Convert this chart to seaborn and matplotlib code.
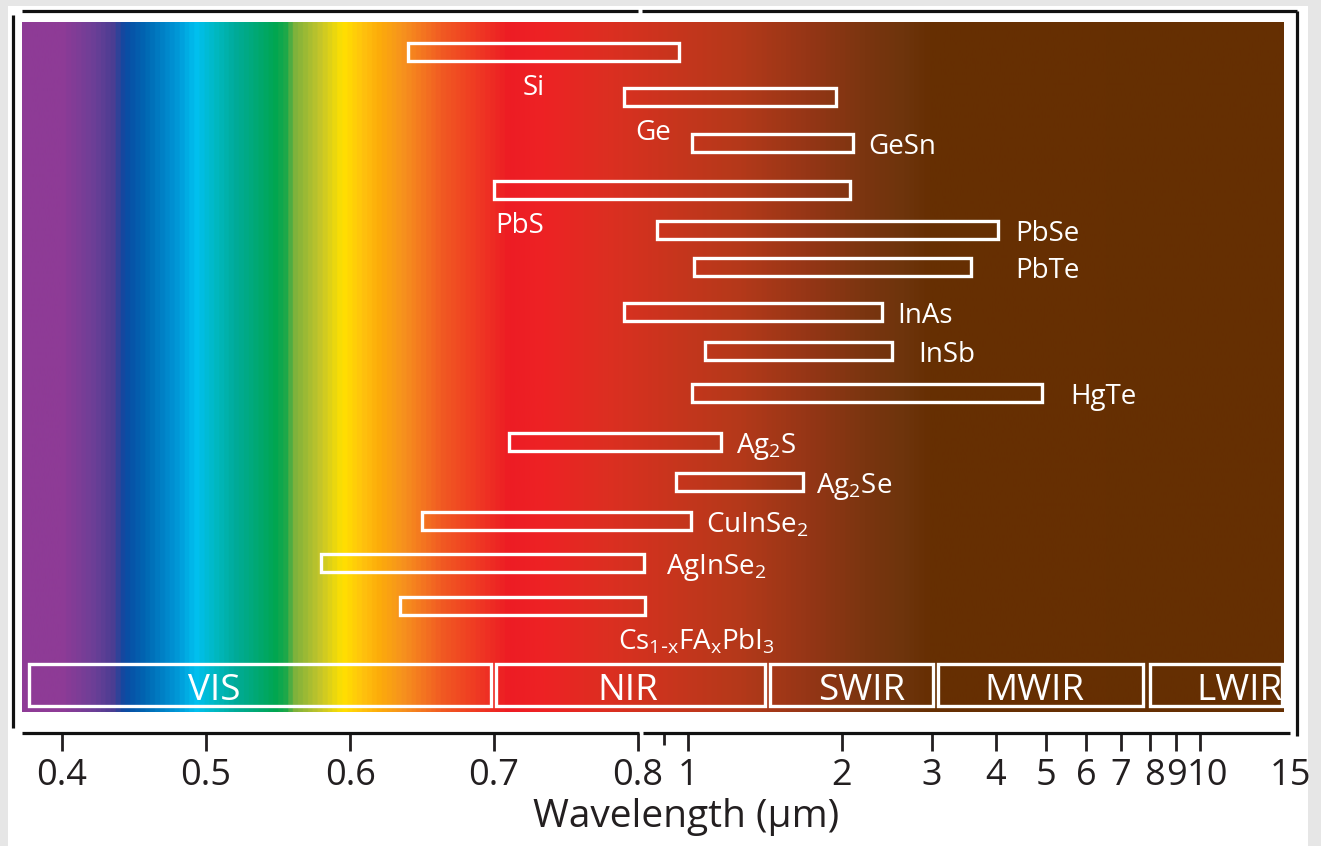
import numpy as np
import matplotlib
matplotlib.use('Agg')
import matplotlib.pyplot as plt
import matplotlib.transforms as mtransforms
from matplotlib.colors import LinearSegmentedColormap
from matplotlib.lines import Line2D
from matplotlib.patches import Rectangle
import seaborn as sns

# detector materials and their spectral windows (um)
materials = ['Si', 'Ge', 'GeSn', 'PbS', 'PbSe', 'PbTe', 'InAs', 'InSb', 'HgTe',
             r'Ag$_\mathregular{2}$S', r'Ag$_\mathregular{2}$Se', r'CuInSe$_\mathregular{2}$',
             r'AgInSe$_\mathregular{2}$', r'Cs$_\mathregular{1\text{-}x}$FA$_\mathregular{x}$PbI$_\mathregular{3}$']
lo = [0.64, 0.79, 1.02, 0.70, 0.87, 1.03, 0.79, 1.08, 1.02, 0.71, 0.95, 0.65, 0.58, 0.635]
hi = [0.96, 1.95, 2.10, 2.07, 4.04, 3.57, 2.39, 2.51, 4.92, 1.16, 1.68, 1.015, 0.822, 0.826]

# spectral regions
bands = ['VIS', 'NIR', 'SWIR', 'MWIR', 'LWIR']
band_lo = [0.377, 0.701, 1.45, 3.08, 7.98]
band_hi = [0.698, 1.416, 3.01, 7.75, 14.5]
band_text_x = [0.506, 0.793, 2.19, 4.75, 11.95]

tick_vals = [0.4, 0.5, 0.6, 0.7, 0.8, 1, 2, 3, 4, 5, 6, 7, 8, 9, 10, 15]
tick_labels = ['0.4', '0.5', '0.6', '0.7', '0.8', '1', '2', '3', '4', '5', '6', '7', '8', '9', '10', '15']

# colour of the spectrum background along the wavelength axis
spec_wl = [0.372, 0.399, 0.420, 0.434, 0.442, 0.457, 0.478, 0.492, 0.506, 0.519, 0.547,
           0.554, 0.561, 0.578, 0.594, 0.608, 0.619, 0.635, 0.658, 0.663, 0.710, 0.733,
           0.779, 0.936, 1.266, 1.71, 2.24, 2.68, 2.97, 14.6]
spec_col = ['#8e3b96', '#8e3b96', '#6d3f97', '#4b3d92', '#0b4aa2', '#0068b3', '#0096d6',
            '#00c0ef', '#00b8c0', '#00ab9a', '#00a651', '#1ba84a', '#7fb23c', '#c4c52a',
            '#ffe100', '#ffc20e', '#fdad0a', '#f7941d', '#f26522', '#f15a22', '#ed1c24',
            '#ee2224', '#dc2f21', '#c8351d', '#b4391a', '#963616', '#7a3510', '#6d340c',
            '#672f03', '#652f02']

# layout (row centres in pixel units, label offsets in pixels)
row_y = [52, 97, 143, 190, 230, 267, 312, 351, 393, 442, 482, 521, 563, 606]
band_y = 685
label_side = ['below', 'below', 'right', 'below', 'right', 'right', 'right', 'right', 'right',
              'right', 'right', 'right', 'right', 'below']
label_dx = [115, 12, 15, 1, 17, 44, 16, 26, 28, 15, 13, 15, 22, 218]


# linear axis up to 0.8 um, log axis beyond
def fwd(w):
    w = np.asarray(w, dtype=float)
    lg = 512.0 * np.log10(np.clip(w, 1e-6, None) / 0.8)
    return np.where(w <= 0.8, (w - 0.8) * 1440.0, lg)


def inv(y):
    y = np.asarray(y, dtype=float)
    return np.where(y <= 0, 0.8 + y / 1440.0, 0.8 * 10 ** (np.clip(y, None, 3000) / 512.0))


sns.set_theme(style='white')
plt.rcParams['font.family'] = ['Open Sans', 'DejaVu Sans']
plt.rcParams['text.color'] = '#231f20'

W, H = 1321, 846
fig = plt.figure(figsize=(W / 100, H / 100), dpi=100)
fig.patch.set_facecolor('white')
ax = fig.add_axes([22 / W, 1 - 733 / H, (1290 - 22) / W, (733 - 11) / H])
ax.set_xscale('function', functions=(fwd, inv))

# spectrum background
cmap_pos = (fwd(spec_wl) - fwd(spec_wl[0])) / (fwd(spec_wl[-1]) - fwd(spec_wl[0]))
cmap = LinearSegmentedColormap.from_list('spec', list(zip(cmap_pos, spec_col)))
img = cmap(np.linspace(0, 1, 2500))[None, :, :]

xlim = (0.3722, 15.0)
ylim = (733, 11)


def xfrac(w):
    return float((fwd(w) - fwd(xlim[0])) / (fwd(xlim[1]) - fwd(xlim[0])))


def yfrac(y):
    return (ylim[0] - y) / (ylim[0] - ylim[1])


ax.imshow(img, extent=(xfrac(spec_wl[0]), xfrac(spec_wl[-1]), yfrac(712), yfrac(22)),
          transform=ax.transAxes, aspect='auto', interpolation='bilinear', zorder=0)

# material windows
ax.barh(row_y, np.array(hi) - np.array(lo), left=lo, height=18, fill=False,
        edgecolor='white', linewidth=2.4, zorder=3)
# band boxes
ax.barh([band_y] * len(bands), np.array(band_hi) - np.array(band_lo), left=band_lo,
        height=42, fill=False, edgecolor='white', linewidth=2.4, zorder=3)

for name, a, b, y, side, dx in zip(materials, lo, hi, row_y, label_side, label_dx):
    if side == 'right':
        ax.annotate(name, xy=(b, y), xytext=(dx, -11), textcoords='offset pixels',
                    ha='left', va='baseline', color='white', fontsize=20, zorder=4)
    else:
        ax.annotate(name, xy=(a, y), xytext=(dx, -43), textcoords='offset pixels',
                    ha='left', va='baseline', color='white', fontsize=20, zorder=4)

for name, xt in zip(bands, band_text_x):
    ax.text(xt, band_y + 15, name, ha='center', va='baseline', color='white',
            fontsize=26.5, zorder=4)

ax.set_xlim(*xlim)
ax.set_ylim(*ylim)
ax.set_yticks([])
for s in ax.spines.values():
    s.set_visible(False)

ax.set_xticks(tick_vals, labels=tick_labels)
ax.set_xticks([0.9], minor=True)
ax.tick_params(axis='x', which='major', direction='out', length=13, width=2.0,
               color='#231f20', labelsize=26, labelcolor='#231f20', pad=5, bottom=True)
ax.tick_params(axis='x', which='minor', direction='out', length=8.5, width=2.0,
               color='#231f20', bottom=True)
ax.xaxis.get_major_ticks()[-1].tick1line.set_visible(False)

# nudge the crowded 8 / 10 labels apart
for lab in ax.get_xticklabels():
    shift = {'8': 4, '10': 8}.get(lab.get_text(), 0)
    if shift:
        lab.set_transform(lab.get_transform() +
                          mtransforms.ScaledTranslation(shift / 100, 0, fig.dpi_scale_trans))

ax.set_xlabel('Wavelength (µm)', fontsize=28, color='#231f20')
ax.xaxis.set_label_coords((686 - 22) / (1290 - 22), -0.09)
ax.xaxis.label.set_va('top')


# frame lines drawn in figure pixels
def px_line(x0, y0, x1, y1):
    fig.add_artist(Line2D([x0 / W, x1 / W], [1 - y0 / H, 1 - y1 / H],
                          transform=fig.transFigure, color='#111111', lw=2.3,
                          solid_capstyle='butt'))


px_line(12.5, 15, 12.5, 728)
px_line(1297, 11, 1297, 736)
px_line(22, 11, 638, 11)
px_line(642, 11, 1297, 11)
px_line(22, 733, 639, 733)
px_line(643, 733, 1290, 733)

# light grey border of the original picture
for r in [(0, 0, 8, H), (0, 0, W, 6), (1308, 0, W - 1308, H)]:
    fig.add_artist(Rectangle((r[0] / W, 1 - (r[1] + r[3]) / H), r[2] / W, r[3] / H,
                             transform=fig.transFigure, color='#e6e6e6', lw=0, zorder=-1))

fig.savefig('out.png', dpi=100)
